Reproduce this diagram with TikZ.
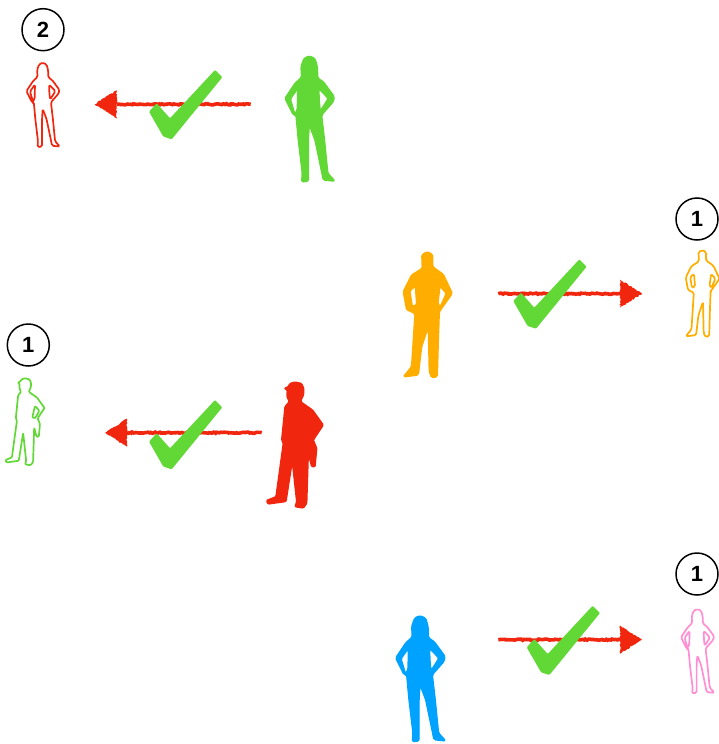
\documentclass[tikz,border=0pt]{standalone}
\usepackage{fontspec}
\setmainfont{Liberation Sans}
\usetikzlibrary{decorations.pathmorphing}
\definecolor{figgreen}{HTML}{62D836}
\definecolor{figred}{HTML}{F0260F}
\definecolor{figorange}{HTML}{FFAE00}
\definecolor{figblue}{HTML}{00A2FF}
\definecolor{figpink}{HTML}{FF8FD2}
\newcommand{\workeroutline}{(0,0) -- (6.5,1.5) -- (8.8,6.3) -- (8.5,13) -- (6,18) -- (6,20) -- (17.5,28) -- (28.3,43) -- (18.3,58) -- (21.7,66.3) -- (20,84.7) -- (16.7,84.7) -- (13.3,71.3) -- (11.7,121.3) -- (8.3,126) -- (0,124.7) -- (1.7,119.7) -- (-2.7,79) -- (-9,119.5) -- (-27,122) -- (-28.5,118.5) -- (-19,114.7) -- (-11.7,61.3) -- (-13.3,58) -- (-10,24.7) -- (-5.7,19.7) -- (-8,14.7) -- (-7.7,8) -- (-10.7,6.3) -- (-7,5) -- (-5,1.5) -- cycle}
\begin{document}
\begin{tikzpicture}[x=1pt, y=-1pt]
  \tikzset{
    badge/.style={draw, circle, line width=1.5pt, minimum size=42pt, inner sep=0pt, font=\fontsize{22}{22}\selectfont\bfseries},
    solidfig/.style={fill=#1, draw=#1, line width=1.4pt, line join=round},
    linefig/.style={draw=#1, line width=1.7pt, line join=round},
    sketchline/.style={figred, line width=3.6pt, decorate, decoration={random steps, segment length=1.5pt, amplitude=0.6pt}},
    woman/.pic={\path[pic actions, even odd rule, rounded corners=1.5pt]
      (0,0) -- (5.7,2.5) -- (8,10.7) -- (8.5,22.3) -- (14,25.7) -- (25,40.7) -- (24,45.7) -- (12.3,59) -- (15.2,84) -- (18.5,117.3) -- (25.7,125.2) -- (14,124) -- (12.3,115.7) -- (5.7,84) -- (0,69) -- (-1,84) -- (-1,117.3) -- (-1,125.2) -- (-7.7,126) -- (-7,117.3) -- (-11,84) -- (-13.3,59) -- (-16,59) -- (-24.3,42.3) -- (-14.3,27.3) -- (-7.7,21.3) -- (-8.3,10.7) -- (-5.3,2.3) -- cycle
      (-19,43) -- (-11.5,32.5) -- (-12,54) -- (-14.5,58) -- cycle
      (9.5,32.5) -- (19,42.5) -- (11,55) -- (10,46) -- cycle;},
    man/.pic={\path[pic actions, even odd rule, rounded corners=1.5pt]
      (0,0) -- (5.5,3) -- (5.3,15) -- (16,22.7) -- (25,41.7) -- (12.7,59) -- (12,60) -- (11,88.3) -- (10,125) -- (4.3,126) -- (2,120) -- (1,75) -- (-5.7,95) -- (-9,123.3) -- (-24,125.2) -- (-15.7,115) -- (-12.3,61.7) -- (-20.7,58) -- (-24,40) -- (-15.7,23.3) -- (-5,16.7) -- (-5.5,3) -- cycle
      (-17.5,39) -- (-12,34.5) -- (-10.5,53) -- (-15,55) -- cycle
      (12.7,34.5) -- (19,41.7) -- (13,55) -- (10.5,52) -- cycle;},
    worker/.pic={\path[pic actions, rounded corners=1pt] \workeroutline;},
    workerline/.pic={\path[pic actions, even odd rule, rounded corners=1pt] \workeroutline
      (14.5,40) -- (20.8,47) -- (14.5,58) -- (10.6,56.5) -- cycle;},
    tickmark/.pic={\path[fill=figgreen, rounded corners=1pt]
      (0,8.3) -- (7.7,0) -- (21,15) -- (66,-33.3) -- (73.3,-26) -- (22.7,36) -- (14.3,33.3) -- cycle;},
    sketchhead/.pic={\path[fill=figred, decorate, decoration={random steps, segment length=1.5pt, amplitude=0.7pt}]
      (0,-14) -- (22,0) -- (0,14) -- cycle;}
  }
  \useasboundingbox (0,0) rectangle (719,744);
  % top left
  \node[badge] (b1) at (43,29.7) {2};
  \pic (f1) at (42.7,62.7) [linefig=figred, scale=0.67] {woman};
  \pic (s1) at (309.3,56) [solidfig=figgreen] {woman};
  \coordinate (a1) at (250.7,104.3);
  \coordinate (c1) at (116.7,104.3);
  \draw[sketchline] (a1) -- (c1);
  \pic (h1) at (c1) [rotate=180] {sketchhead};
  \pic (t1) at (149,103.3) {tickmark};
  % right, orange
  \node[badge] (b2) at (697,219) {1};
  \pic (f2) at (702.3,250) [linefig=figorange, scale=0.69] {man};
  \pic (s2) at (427.3,251.7) [solidfig=figorange] {man};
  \coordinate (a2) at (498.3,293.7);
  \coordinate (c2) at (620,293.7);
  \draw[sketchline] (a2) -- (c2);
  \pic (h2) at (c2) {sketchhead};
  \pic (t2) at (513.3,292.7) {tickmark};
  % left, worker
  \node[badge] (b3) at (28.3,345) {1};
  \pic (f3) at (25,378.3) [linefig=figgreen, scale=0.69] {workerline};
  \pic (s3) at (295,382) [solidfig=figred] {worker};
  \coordinate (a3) at (261.7,432.7);
  \coordinate (c3) at (127,432.7);
  \draw[sketchline] (a3) -- (c3);
  \pic (h3) at (c3) [rotate=180] {sketchhead};
  \pic (t3) at (149,433.3) {tickmark};
  % bottom right
  \node[badge] (b4) at (697,574) {1};
  \pic (f4) at (697.3,609) [linefig=figpink, scale=0.67] {woman};
  \pic (s4) at (420,615.7) [solidfig=figblue] {woman};
  \coordinate (a4) at (498.3,639.7);
  \coordinate (c4) at (620,639.7);
  \draw[sketchline] (a4) -- (c4);
  \pic (h4) at (c4) {sketchhead};
  \pic (t4) at (526.7,639) {tickmark};
\end{tikzpicture}
\end{document}
